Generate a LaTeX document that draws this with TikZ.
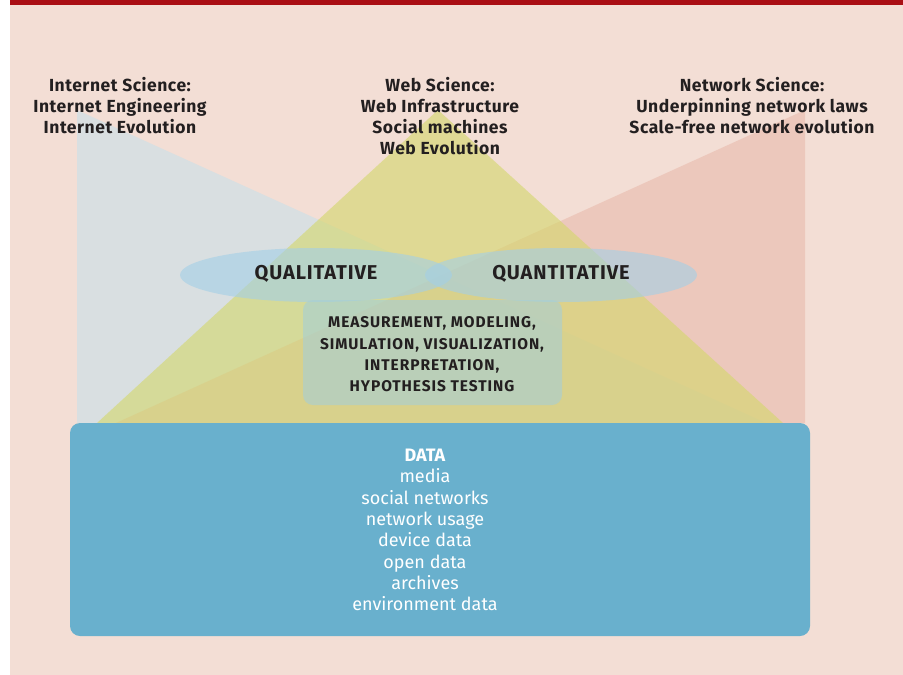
\documentclass[tikz,border=0pt]{standalone}
\usepackage{fontspec}
\setmainfont{Fira Sans}
\definecolor{bgpink}{HTML}{F3DED5}
\definecolor{topred}{HTML}{AA0E14}
\definecolor{triblue}{HTML}{C1E0ED}
\definecolor{triyellow}{HTML}{D3D769}
\definecolor{trired}{HTML}{E7B4A5}
\definecolor{ellblue}{HTML}{A3CFE6}
\definecolor{boxgreen}{HTML}{A6CFD6}
\definecolor{databox}{HTML}{69B0CD}
\definecolor{ink}{HTML}{231F20}
\tikzset{
  titletext/.style={align=center, text=ink, font=\fontsize{17.5}{21}\selectfont\bfseries\addfontfeatures{LetterSpace=3}, inner sep=0pt},
  elltext/.style={text=ink, font=\fontsize{20}{24}\selectfont\bfseries\addfontfeatures{LetterSpace=4.5}, inner sep=0pt},
  methodtext/.style={align=center, text=ink, font=\fontsize{15.5}{21.3}\selectfont\bfseries\addfontfeatures{LetterSpace=6}, inner sep=0pt},
  datatext/.style={align=center, text=white, font=\fontsize{18}{21.3}\selectfont, inner sep=0pt},
  ellshape/.style={fill=ellblue, fill opacity=0.6},
}
\begin{document}
\begin{tikzpicture}[x=1pt,y=-1pt]
\useasboundingbox (0,0) rectangle (903,675);
\fill[white] (0,0) rectangle (903,675);
\fill[bgpink] (10,0) rectangle (903,675);
\fill[topred] (10,0) rectangle (903,5);
% triangles
\fill[triblue, opacity=0.5] (77,110) -- (77,423) -- (766,423) -- cycle;
\fill[trired, opacity=0.5] (805,110) -- (805,423) -- (116,423) -- cycle;
\fill[triyellow, opacity=0.6] (438,110) -- (783,423) -- (97,423) -- cycle;
% ellipses
\fill[ellshape] (316,275) ellipse [x radius=136, y radius=27];
\fill[ellshape] (561,275) ellipse [x radius=136, y radius=27];
\node[elltext] (qual) at (316,274) {QUALITATIVE};
\node[elltext] (quant) at (561,274) {QUANTITATIVE};
% methods box
\fill[boxgreen, fill opacity=0.6, rounded corners=10pt] (303,300) rectangle (562,405);
\node[methodtext] (methods) at (432,354.5) {MEASUREMENT, MODELING,\\SIMULATION, VISUALIZATION,\\INTERPRETATION,\\HYPOTHESIS TESTING};
% data box
\fill[databox, rounded corners=10pt] (70,423) rectangle (810,636);
\node[datatext] (data) at (425,530) {\textbf{DATA}\\media\\social networks\\network usage\\device data\\open data\\archives\\environment data};
% titles
\node[titletext] (inet) at (120,106) {Internet Science:\\Internet Engineering\\Internet Evolution};
\node[titletext] (web) at (440,116.5) {Web Science:\\Web Infrastructure\\Social machines\\Web Evolution};
\node[titletext] (netsci) at (752,106) {Network Science:\\Underpinning network laws\\Scale-free network evolution};
\end{tikzpicture}
\end{document}
